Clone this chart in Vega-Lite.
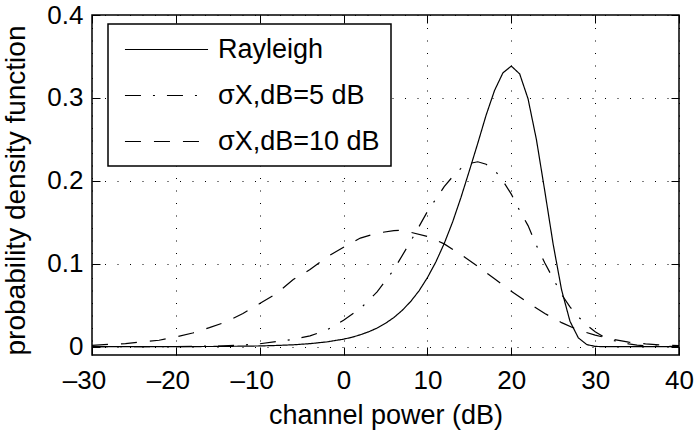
{
  "$schema": "https://vega.github.io/schema/vega-lite/v6.json",
  "width": 587,
  "height": 340,
  "autosize": {"type": "none"},
  "padding": {"left": 92, "top": 15, "right": 17, "bottom": 76},
  "background": "white",
  "config": {
    "font": "Liberation Sans",
    "view": {"stroke": "black", "strokeWidth": 1.5},
    "axis": {
      "domain": false,
      "grid": true,
      "gridColor": "black",
      "gridOpacity": 1,
      "gridWidth": 1,
      "gridDash": [1, 11.5],
      "tickColor": "black",
      "tickWidth": 1,
      "tickSize": -8,
      "labelFlush": false,
      "labelOverlap": false,
      "labelColor": "black",
      "labelFont": "Liberation Sans",
      "labelFontSize": 26,
      "titleFont": "Liberation Sans",
      "titleFontSize": 27,
      "titleFontWeight": "normal",
      "titleColor": "black"
    },
    "legend": {"strokeWidth": 1.5}
  },
  "data": {
    "values": [
      {"series": "Rayleigh", "x": -30, "y": 0.00001},
      {"series": "Rayleigh", "x": -25, "y": 0.00003},
      {"series": "Rayleigh", "x": -20, "y": 0.0001},
      {"series": "Rayleigh", "x": -15, "y": 0.0003},
      {"series": "Rayleigh", "x": -10, "y": 0.0009},
      {"series": "Rayleigh", "x": -8, "y": 0.0015},
      {"series": "Rayleigh", "x": -6, "y": 0.0023},
      {"series": "Rayleigh", "x": -4, "y": 0.0037},
      {"series": "Rayleigh", "x": -2, "y": 0.0058},
      {"series": "Rayleigh", "x": 0, "y": 0.0091},
      {"series": "Rayleigh", "x": 1, "y": 0.0114},
      {"series": "Rayleigh", "x": 2, "y": 0.0144},
      {"series": "Rayleigh", "x": 3, "y": 0.018},
      {"series": "Rayleigh", "x": 4, "y": 0.0225},
      {"series": "Rayleigh", "x": 5, "y": 0.0282},
      {"series": "Rayleigh", "x": 6, "y": 0.0352},
      {"series": "Rayleigh", "x": 7, "y": 0.0439},
      {"series": "Rayleigh", "x": 8, "y": 0.0545},
      {"series": "Rayleigh", "x": 9, "y": 0.0674},
      {"series": "Rayleigh", "x": 10, "y": 0.0833},
      {"series": "Rayleigh", "x": 11, "y": 0.1021},
      {"series": "Rayleigh", "x": 12, "y": 0.1244},
      {"series": "Rayleigh", "x": 13, "y": 0.1503},
      {"series": "Rayleigh", "x": 14, "y": 0.18},
      {"series": "Rayleigh", "x": 15, "y": 0.2122},
      {"series": "Rayleigh", "x": 16, "y": 0.2452},
      {"series": "Rayleigh", "x": 17, "y": 0.2793},
      {"series": "Rayleigh", "x": 18, "y": 0.3089},
      {"series": "Rayleigh", "x": 19, "y": 0.3302},
      {"series": "Rayleigh", "x": 20, "y": 0.3384},
      {"series": "Rayleigh", "x": 21, "y": 0.329},
      {"series": "Rayleigh", "x": 22, "y": 0.2989},
      {"series": "Rayleigh", "x": 23, "y": 0.2496},
      {"series": "Rayleigh", "x": 24, "y": 0.1874},
      {"series": "Rayleigh", "x": 25, "y": 0.1232},
      {"series": "Rayleigh", "x": 26, "y": 0.0684},
      {"series": "Rayleigh", "x": 27, "y": 0.0307},
      {"series": "Rayleigh", "x": 28, "y": 0.0106},
      {"series": "Rayleigh", "x": 29, "y": 0.0026},
      {"series": "Rayleigh", "x": 30, "y": 0.0004},
      {"series": "Rayleigh", "x": 31, "y": 0.00003},
      {"series": "Rayleigh", "x": 32, "y": 0},
      {"series": "Rayleigh", "x": 36, "y": 0},
      {"series": "Rayleigh", "x": 40, "y": 0},

      {"series": "σX,dB=5 dB", "x": -30, "y": 0},
      {"series": "σX,dB=5 dB", "x": -25, "y": 0.0001},
      {"series": "σX,dB=5 dB", "x": -20, "y": 0.0002},
      {"series": "σX,dB=5 dB", "x": -15, "y": 0.0008},
      {"series": "σX,dB=5 dB", "x": -12, "y": 0.002},
      {"series": "σX,dB=5 dB", "x": -10, "y": 0.0035},
      {"series": "σX,dB=5 dB", "x": -8, "y": 0.0062},
      {"series": "σX,dB=5 dB", "x": -6, "y": 0.0088},
      {"series": "σX,dB=5 dB", "x": -4, "y": 0.013},
      {"series": "σX,dB=5 dB", "x": -2, "y": 0.02},
      {"series": "σX,dB=5 dB", "x": 0, "y": 0.032},
      {"series": "σX,dB=5 dB", "x": 2, "y": 0.046},
      {"series": "σX,dB=5 dB", "x": 4, "y": 0.066},
      {"series": "σX,dB=5 dB", "x": 6, "y": 0.093},
      {"series": "σX,dB=5 dB", "x": 8, "y": 0.127},
      {"series": "σX,dB=5 dB", "x": 10, "y": 0.163},
      {"series": "σX,dB=5 dB", "x": 12, "y": 0.193},
      {"series": "σX,dB=5 dB", "x": 13, "y": 0.205},
      {"series": "σX,dB=5 dB", "x": 14, "y": 0.215},
      {"series": "σX,dB=5 dB", "x": 15, "y": 0.221},
      {"series": "σX,dB=5 dB", "x": 16, "y": 0.223},
      {"series": "σX,dB=5 dB", "x": 17, "y": 0.22},
      {"series": "σX,dB=5 dB", "x": 18, "y": 0.213},
      {"series": "σX,dB=5 dB", "x": 19, "y": 0.2},
      {"series": "σX,dB=5 dB", "x": 20, "y": 0.184},
      {"series": "σX,dB=5 dB", "x": 21, "y": 0.164},
      {"series": "σX,dB=5 dB", "x": 22, "y": 0.146},
      {"series": "σX,dB=5 dB", "x": 23, "y": 0.122},
      {"series": "σX,dB=5 dB", "x": 24, "y": 0.101},
      {"series": "σX,dB=5 dB", "x": 25, "y": 0.082},
      {"series": "σX,dB=5 dB", "x": 26, "y": 0.063},
      {"series": "σX,dB=5 dB", "x": 27, "y": 0.048},
      {"series": "σX,dB=5 dB", "x": 28, "y": 0.036},
      {"series": "σX,dB=5 dB", "x": 29, "y": 0.026},
      {"series": "σX,dB=5 dB", "x": 30, "y": 0.018},
      {"series": "σX,dB=5 dB", "x": 31, "y": 0.012},
      {"series": "σX,dB=5 dB", "x": 32, "y": 0.008},
      {"series": "σX,dB=5 dB", "x": 33, "y": 0.0055},
      {"series": "σX,dB=5 dB", "x": 34, "y": 0.0035},
      {"series": "σX,dB=5 dB", "x": 35, "y": 0.002},
      {"series": "σX,dB=5 dB", "x": 36, "y": 0.0012},
      {"series": "σX,dB=5 dB", "x": 38, "y": 0.0005},
      {"series": "σX,dB=5 dB", "x": 40, "y": 0.0002},

      {"series": "σX,dB=10 dB", "x": -30, "y": 0.0016},
      {"series": "σX,dB=10 dB", "x": -28, "y": 0.0028},
      {"series": "σX,dB=10 dB", "x": -26, "y": 0.0037},
      {"series": "σX,dB=10 dB", "x": -24, "y": 0.006},
      {"series": "σX,dB=10 dB", "x": -22, "y": 0.0078},
      {"series": "σX,dB=10 dB", "x": -20, "y": 0.0118},
      {"series": "σX,dB=10 dB", "x": -18, "y": 0.0165},
      {"series": "σX,dB=10 dB", "x": -16, "y": 0.023},
      {"series": "σX,dB=10 dB", "x": -14, "y": 0.03},
      {"series": "σX,dB=10 dB", "x": -12, "y": 0.04},
      {"series": "σX,dB=10 dB", "x": -10, "y": 0.052},
      {"series": "σX,dB=10 dB", "x": -8, "y": 0.064},
      {"series": "σX,dB=10 dB", "x": -6, "y": 0.081},
      {"series": "σX,dB=10 dB", "x": -4, "y": 0.093},
      {"series": "σX,dB=10 dB", "x": -2, "y": 0.108},
      {"series": "σX,dB=10 dB", "x": 0, "y": 0.12},
      {"series": "σX,dB=10 dB", "x": 2, "y": 0.131},
      {"series": "σX,dB=10 dB", "x": 4, "y": 0.137},
      {"series": "σX,dB=10 dB", "x": 6, "y": 0.14},
      {"series": "σX,dB=10 dB", "x": 7, "y": 0.1405},
      {"series": "σX,dB=10 dB", "x": 8, "y": 0.138},
      {"series": "σX,dB=10 dB", "x": 10, "y": 0.133},
      {"series": "σX,dB=10 dB", "x": 12, "y": 0.124},
      {"series": "σX,dB=10 dB", "x": 14, "y": 0.111},
      {"series": "σX,dB=10 dB", "x": 16, "y": 0.097},
      {"series": "σX,dB=10 dB", "x": 18, "y": 0.082},
      {"series": "σX,dB=10 dB", "x": 20, "y": 0.067},
      {"series": "σX,dB=10 dB", "x": 22, "y": 0.053},
      {"series": "σX,dB=10 dB", "x": 24, "y": 0.04},
      {"series": "σX,dB=10 dB", "x": 26, "y": 0.029},
      {"series": "σX,dB=10 dB", "x": 28, "y": 0.02},
      {"series": "σX,dB=10 dB", "x": 30, "y": 0.014},
      {"series": "σX,dB=10 dB", "x": 32, "y": 0.009},
      {"series": "σX,dB=10 dB", "x": 34, "y": 0.0055},
      {"series": "σX,dB=10 dB", "x": 36, "y": 0.0035},
      {"series": "σX,dB=10 dB", "x": 38, "y": 0.002},
      {"series": "σX,dB=10 dB", "x": 40, "y": 0.0012}
    ]
  },
  "layer": [
    {
      "mark": {"type": "line", "color": "black", "strokeWidth": 1.2},
      "encoding": {
        "x": {
          "field": "x", "type": "quantitative",
          "scale": {"domain": [-30, 40], "nice": false, "zero": false},
          "axis": {"orient": "bottom", "values": [-30, -20, -10, 0, 10, 20, 30, 40], "labelExpr": "datum.value < 0 ? '\u2013' + format(-datum.value, 'd') : format(datum.value, 'd')", "labelOffset": {"condition": {"test": "datum.value < 0", "value": -8}, "value": 0}, "title": "channel power (dB)", "labelPadding": 20, "titlePadding": 9}
        },
        "y": {
          "field": "y", "type": "quantitative",
          "scale": {"domain": [-0.01, 0.4], "nice": false, "zero": false},
          "axis": {"orient": "left", "values": [0, 0.1, 0.2, 0.3, 0.4], "labelExpr": "datum.value == 0 ? '0' : format(datum.value, '.1f')", "title": "probability density function", "titleFontSize": 28, "labelPadding": 17, "titleX": -62, "titleY": 175, "titleBaseline": "bottom", "titleAngle": 270, "titleAlign": "center"}
        },
        "strokeDash": {
          "field": "series", "type": "nominal",
          "scale": {"domain": ["Rayleigh", "σX,dB=5 dB", "σX,dB=10 dB"], "range": [[1, 0], [16, 12, 2, 12], [16, 13]]},
          "legend": {
            "title": null, "orient": "none", "legendX": 16, "legendY": 9,
            "fillColor": "white", "strokeColor": "black", "padding": 11,
            "symbolType": "M-3,0H3", "symbolSize": 767, "symbolStrokeWidth": 1.2,
            "symbolStrokeColor": "black", "symbolOffset": 33,
            "labelOffset": 37, "labelFontSize": 27, "labelFont": "Liberation Sans",
            "labelColor": "black", "rowPadding": 18, "labelLimit": 400
          }
        }
      }
    },
    {
      "mark": {"type": "line", "opacity": 0},
      "encoding": {
        "x": {
          "field": "x", "type": "quantitative",
          "axis": {"orient": "top", "values": [-30, -20, -10, 0, 10, 20, 30, 40], "labels": false, "grid": false, "title": null}
        },
        "y": {
          "field": "y", "type": "quantitative",
          "axis": {"orient": "right", "values": [0, 0.1, 0.2, 0.3, 0.4], "labels": false, "grid": false, "title": null}
        },
        "detail": {"field": "series"}
      }
    }
  ],
  "resolve": {"axis": {"x": "independent", "y": "independent"}}
}
